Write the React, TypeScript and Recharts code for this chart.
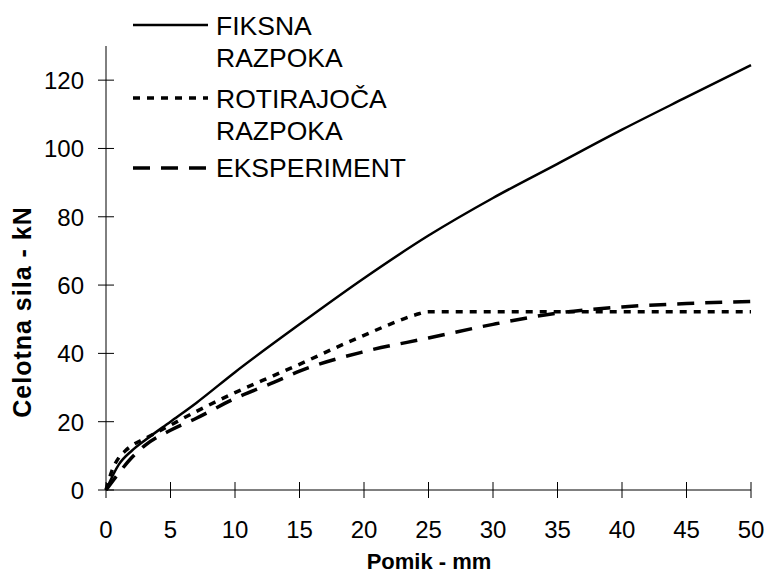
import React from "react";
import { LineChart, Line, XAxis, YAxis, Legend, Label } from "recharts";

const FONT = '"Liberation Sans", Arial, sans-serif';

// displacement (mm) and total force (kN)
const fiksnaX = [0, 1, 2, 3, 5, 7, 10, 15, 20, 25, 30, 35, 40, 45, 50];
const fiksnaY = [0, 7.5, 11.5, 14.5, 20, 25.5, 34.5, 48.5, 62, 74.5, 85.5, 95.5, 105.5, 115, 124.4];

const rotX = [0, 0.5, 1, 1.5, 2, 3, 5, 7, 10, 13, 15, 18, 20, 22, 24, 25, 30, 35, 40, 45, 50];
const rotY = [0, 6, 9.5, 11.5, 13, 15, 19, 23, 28.5, 33.5, 36.8, 42, 45.3, 48.5, 51.3, 52.2, 52.2, 52.2, 52.2, 52.2, 52.2];

const ekspX = [0, 1, 2, 3, 5, 7, 10, 13, 15, 20, 25, 30, 35, 40, 45, 50];
const ekspY = [0, 5, 9.5, 13, 17.5, 21, 26.8, 31.5, 34.8, 40.5, 44.5, 48.5, 51.8, 53.6, 54.6, 55.2];

const xTicks = [0, 5, 10, 15, 20, 25, 30, 35, 40, 45, 50];
const yTicks = [0, 20, 40, 60, 80, 100, 120];

const toPoints = (xs: number[], ys: number[]) => xs.map((x, i) => ({ x, y: ys[i] }));

const fiksna = toPoints(fiksnaX, fiksnaY);
const rotirajoca = toPoints(rotX, rotY);
const eksperiment = toPoints(ekspX, ekspY);

const SOLID = undefined;
const DOTTED = "7 7";
const DASHED = "17 11";

const XTick = (props: any) => {
  const { x, y, payload } = props;
  return (
    <g>
      <line x1={x} x2={x} y1={y - 8} y2={y + 8} stroke="#000" strokeWidth={1} />
      <text x={x} y={y + 48} textAnchor="middle" fontSize={24} fontFamily={FONT} fill="#000">
        {payload.value}
      </text>
    </g>
  );
};

const YTick = (props: any) => {
  const { x, y, payload } = props;
  return (
    <g>
      <line x1={x - 8} x2={x + 8} y1={y} y2={y} stroke="#000" strokeWidth={1} />
      <text x={x - 22} y={y + 9} textAnchor="end" fontSize={24} fontFamily={FONT} fill="#000">
        {payload.value}
      </text>
    </g>
  );
};

const legendItems = [
  { lines: ["FIKSNA", "RAZPOKA"], dash: SOLID, w: 2.5, y: 25, base: [35, 67] },
  { lines: ["ROTIRAJOČA", "RAZPOKA"], dash: DOTTED, w: 3.5, y: 98, base: [108, 140] },
  { lines: ["EKSPERIMENT"], dash: DASHED, w: 3.5, y: 168, base: [177] },
];

const LegendBox = () => (
  <svg width={420} height={190}>
    {legendItems.map((it) => (
      <g key={it.lines.join()}>
        <line x1={133} x2={208} y1={it.y} y2={it.y} stroke="#000" strokeWidth={it.w} strokeDasharray={it.dash} />
        {it.lines.map((t, i) => (
          <text key={t + i} x={216} y={it.base[i]} fontSize={26.5} fontFamily={FONT} fill="#000">
            {t}
          </text>
        ))}
      </g>
    ))}
  </svg>
);

const YTitle = () => (
  <text
    transform="translate(31,312) rotate(-90)"
    textAnchor="middle"
    fontSize={25}
    fontWeight="bold"
    fontFamily={FONT}
    fill="#000"
    letterSpacing={1}
  >
    Celotna sila - kN
  </text>
);

const XTitle = () => (
  <text x={429} y={569} textAnchor="middle" fontSize={22} fontWeight="bold" fontFamily={FONT} fill="#000">
    Pomik - mm
  </text>
);

export default function App() {
  return (
    <div style={{ position: "absolute", left: 0, top: 0, width: 766, height: 581, background: "#fff" }}>
      <LineChart width={766} height={581} margin={{ top: 46, right: 15, left: 0, bottom: 0 }}>
        <XAxis
          type="number"
          dataKey="x"
          domain={[0, 50]}
          ticks={xTicks}
          height={91}
          tickSize={0}
          tickMargin={0}
          tick={<XTick />}
          axisLine={{ stroke: "#000", strokeWidth: 1 }}
          allowDuplicatedCategory={false}
        >
          <Label content={<XTitle />} />
        </XAxis>
        <YAxis
          type="number"
          dataKey="y"
          domain={[0, 130]}
          ticks={yTicks}
          width={106}
          tickSize={0}
          tickMargin={0}
          tick={<YTick />}
          axisLine={{ stroke: "#000", strokeWidth: 1 }}
        >
          <Label content={<YTitle />} />
        </YAxis>
        <Legend
          layout="vertical"
          align="center"
          verticalAlign="middle"
          wrapperStyle={{ left: 0, top: 0, width: 420, height: 190 }}
          content={<LegendBox />}
        />
        <Line
          data={fiksna}
          dataKey="y"
          name="FIKSNA RAZPOKA"
          type="monotone"
          stroke="#000"
          strokeWidth={2.5}
          dot={false}
          isAnimationActive={false}
        />
        <Line
          data={rotirajoca}
          dataKey="y"
          name="ROTIRAJOČA RAZPOKA"
          type="monotone"
          stroke="#000"
          strokeWidth={3.5}
          strokeDasharray={DOTTED}
          dot={false}
          isAnimationActive={false}
        />
        <Line
          data={eksperiment}
          dataKey="y"
          name="EKSPERIMENT"
          type="monotone"
          stroke="#000"
          strokeWidth={3.5}
          strokeDasharray={DASHED}
          dot={false}
          isAnimationActive={false}
        />
      </LineChart>
    </div>
  );
}
